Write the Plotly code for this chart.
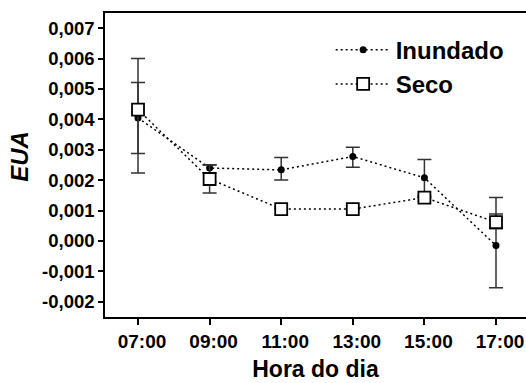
import plotly.graph_objects as go

hours = ["07:00", "09:00", "11:00", "13:00", "15:00", "17:00"]

inundado = [0.00405, 0.00240, 0.00234, 0.00278, 0.00208, -0.00015]
inundado_err_plus = [0.00116, 0.00011, 0.00041, 0.00030, 0.00060, 0.00158]
inundado_err_minus = [0.00117, 0.00016, 0.00033, 0.00035, 0.00060, 0.00139]

seco = [0.00432, 0.00204, 0.00105, 0.00105, 0.00143, 0.00062]
seco_err_plus = [0.00168, 0.00046, 0.00000, 0.00000, 0.00000, 0.00027]
seco_err_minus = [0.00208, 0.00046, 0.00000, 0.00000, 0.00000, 0.00022]

y_tickvals = [-0.002, -0.001, 0.0, 0.001, 0.002, 0.003, 0.004, 0.005, 0.006, 0.007]
y_ticktext = ["-0,002", "-0,001", "0,000", "0,001", "0,002", "0,003",
              "0,004", "0,005", "0,006", "0,007"]

FONT = "Liberation Sans, Arial, Helvetica, sans-serif"
DOT = "2px,3px"

fig = go.Figure()

fig.add_trace(go.Scatter(
    x=hours, y=inundado, name="Inundado", mode="lines+markers",
    line=dict(color="black", width=1.5, dash=DOT),
    marker=dict(symbol="circle", size=7, color="black"),
    error_y=dict(type="data", symmetric=False, array=inundado_err_plus,
                 arrayminus=inundado_err_minus, color="#333333",
                 thickness=1.5, width=7),
))

fig.add_trace(go.Scatter(
    x=hours, y=seco, name="Seco", mode="lines+markers",
    line=dict(color="black", width=1.5, dash=DOT),
    marker=dict(symbol="square", size=12, color="white",
                line=dict(color="black", width=1.8)),
    error_y=dict(type="data", symmetric=False, array=seco_err_plus,
                 arrayminus=seco_err_minus, color="#333333",
                 thickness=1.5, width=7),
))

fig.update_layout(
    width=526, height=383,
    margin=dict(l=105, r=0, t=13, b=66, autoexpand=False),
    plot_bgcolor="white", paper_bgcolor="white",
    font=dict(family=FONT, color="black"),
    showlegend=True,
    legend=dict(
        x=0.536, y=0.952, xanchor="left", yanchor="top",
        bgcolor="rgba(0,0,0,0)", borderwidth=0,
        font=dict(family=FONT, size=24, weight="bold", color="black"),
        itemwidth=55, tracegroupgap=0,
    ),
    annotations=[dict(
        text="EUA", textangle=-90, showarrow=False,
        xref="paper", yref="paper", x=-0.202, y=0.53,
        xanchor="center", yanchor="middle",
        font=dict(family=FONT, size=24, weight="bold",
                  style="italic", color="black"),
    )],
)

fig.update_xaxes(
    type="category", range=[-0.461, 5.419], automargin=False,
    showline=True, linecolor="black", linewidth=1.5, mirror=True,
    ticks="outside", ticklen=6, tickwidth=1.5, tickcolor="black",
    ticklabelshift=4,
    tickfont=dict(family=FONT, size=19, weight="bold", color="black"),
    showgrid=False, zeroline=False,
    title=dict(text="Hora do dia", standoff=10,
               font=dict(family=FONT, size=23, weight="bold", color="black")),
)

fig.update_yaxes(
    range=[-0.0025, 0.0075], automargin=False,
    tickvals=y_tickvals, ticktext=y_ticktext,
    showline=True, linecolor="black", linewidth=1.5,
    ticks="outside", ticklen=5, tickwidth=1.5, tickcolor="black",
    tickfont=dict(family=FONT, size=18.5, weight="bold", color="black"),
    showgrid=False, zeroline=False,
)

# remove the page's default body margin so the figure fills the window
fig.write_html(
    "out.html",
    config={"displayModeBar": False},
    post_script="document.body.style.margin='0';document.body.style.overflow='hidden';",
)
